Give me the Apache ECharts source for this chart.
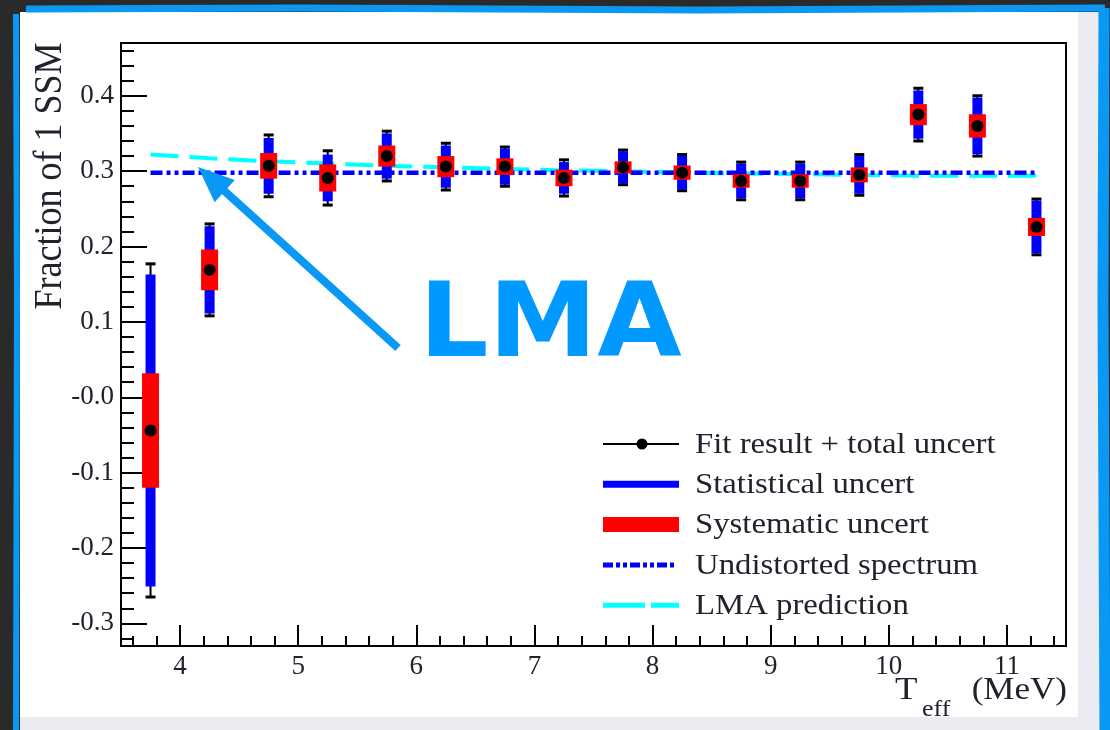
<!DOCTYPE html>
<html><head><meta charset="utf-8">
<script src="https://cdn.jsdelivr.net/npm/echarts@6/dist/echarts.min.js"></script>
<style>html,body{margin:0;padding:0;background:#2a2a2a;} #c{width:1110px;height:730px;}</style>
</head><body><div id="c"></div>
<script>
// ---- data ----
const energy = [3.75, 4.25, 4.75, 5.25, 5.75, 6.25, 6.75, 7.25, 7.75, 8.25, 8.75, 9.25, 9.75, 10.25, 10.75, 11.25];
const fraction = [-0.044, 0.169, 0.307, 0.291, 0.320, 0.306, 0.306, 0.291, 0.305, 0.298, 0.287, 0.287, 0.295, 0.375, 0.360, 0.226];
const statErr = [0.207, 0.058, 0.037, 0.031, 0.030, 0.028, 0.024, 0.021, 0.0215, 0.0225, 0.023, 0.023, 0.025, 0.032, 0.0375, 0.035];
const systErr = [0.076, 0.027, 0.017, 0.018, 0.014, 0.014, 0.011, 0.011, 0.008, 0.0095, 0.009, 0.009, 0.010, 0.014, 0.0155, 0.012];
const totalErr = [0.221, 0.061, 0.041, 0.036, 0.033, 0.031, 0.026, 0.024, 0.023, 0.024, 0.025, 0.025, 0.027, 0.035, 0.040, 0.037];
const undistortedX = [3.75, 11.25];
const undistortedY = [0.298, 0.298];
const lmaPrediction = [0.322, 0.317, 0.313, 0.310, 0.307, 0.305, 0.303, 0.301, 0.300, 0.298, 0.297, 0.296, 0.295, 0.294, 0.294, 0.294];
const xTickValues = [4, 5, 6, 7, 8, 9, 10, 11];
const xTickLabels = ['4', '5', '6', '7', '8', '9', '10', '11'];
const yTickValues = [-0.3, -0.2, -0.1, 0, 0.1, 0.2, 0.3, 0.4];
const yTickLabels = ['-0.3', '-0.2', '-0.1', '-0.0', '0.1', '0.2', '0.3', '0.4'];
const legendLabels = ['Fit result + total uncert', 'Statistical uncert', 'Systematic uncert', 'Undistorted spectrum', 'LMA prediction'];
const yTitle = 'Fraction of 1 SSM';
const annotationText = 'LMA';

// ---- build ----
const SERIF = '"Liberation Serif", "Times New Roman", serif';
const TXT = '#22222e';
function labelFor(values, labels) {
  return function (v) {
    for (let i = 0; i < values.length; i++) if (Math.abs(values[i] - v) < 1e-9) return labels[i];
    return '';
  };
}
const errData = (arr) => energy.map((x, i) => [x, fraction[i], arr[i]]);

function renderTotal(params, api) {
  const x = api.value(0), y = api.value(1), e = api.value(2);
  const p1 = api.coord([x, y + e]), p2 = api.coord([x, y - e]);
  const hw = 5;
  return { type: 'group', children: [
    { type: 'line', shape: { x1: p1[0], y1: p1[1], x2: p2[0], y2: p2[1] }, style: { stroke: '#000', lineWidth: 2 } },
    { type: 'line', shape: { x1: p1[0] - hw, y1: p1[1], x2: p1[0] + hw, y2: p1[1] }, style: { stroke: '#000', lineWidth: 3 } },
    { type: 'line', shape: { x1: p2[0] - hw, y1: p2[1], x2: p2[0] + hw, y2: p2[1] }, style: { stroke: '#000', lineWidth: 3 } }
  ] };
}
function rectRenderer(halfWidth, color) {
  return function (params, api) {
    const x = api.value(0), y = api.value(1), e = api.value(2);
    const p1 = api.coord([x, y + e]), p2 = api.coord([x, y - e]);
    return { type: 'rect', shape: { x: p1[0] - halfWidth, y: p1[1], width: halfWidth * 2, height: p2[1] - p1[1] }, style: { fill: color } };
  };
}

const chart = echarts.init(document.getElementById('c'), null, { renderer: 'canvas' });

const legendX0 = 603, legendX1 = 679, legendTextX = 695, legendY0 = 444, legendDy = 40.3;
const legendGraphics = [];
legendGraphics.push({ type: 'line', shape: { x1: legendX0, y1: legendY0, x2: legendX1, y2: legendY0 }, style: { stroke: '#000', lineWidth: 2 }, z: 100 });
legendGraphics.push({ type: 'circle', shape: { cx: (legendX0 + legendX1) / 2 + 1, cy: legendY0, r: 5.5 }, style: { fill: '#000' }, z: 100 });
legendGraphics.push({ type: 'rect', shape: { x: legendX0, y: legendY0 + legendDy - 3.5, width: legendX1 - legendX0, height: 7 }, style: { fill: '#0000ff' }, z: 100 });
legendGraphics.push({ type: 'rect', shape: { x: legendX0, y: legendY0 + 2 * legendDy - 7.5, width: legendX1 - legendX0, height: 15 }, style: { fill: '#ff0000' }, z: 100 });
legendGraphics.push({ type: 'line', shape: { x1: legendX0, y1: legendY0 + 3 * legendDy, x2: legendX1 - 4, y2: legendY0 + 3 * legendDy }, style: { stroke: '#0000ff', lineWidth: 5, lineDash: [10, 3, 4, 3, 4, 3] }, z: 100 });
legendGraphics.push({ type: 'line', shape: { x1: legendX0, y1: legendY0 + 4 * legendDy, x2: legendX1, y2: legendY0 + 4 * legendDy }, style: { stroke: '#00ffff', lineWidth: 5, lineDash: [42, 6] }, z: 100 });
legendLabels.forEach((t, i) => {
  legendGraphics.push({ type: 'text', x: legendTextX, y: legendY0 + i * legendDy + 1, scaleX: 1.13, z: 100,
    style: { text: t, fill: TXT, font: '29px ' + SERIF, textAlign: 'left', textVerticalAlign: 'middle' } });
});

const tip = [198, 167], tail = [398, 348];
const ux = (tip[0] - tail[0]), uy = (tip[1] - tail[1]);
const ul = Math.hypot(ux, uy);
const dx = ux / ul, dy = uy / ul;
const headLen = 36, headHalf = 15;
const base = [tip[0] - dx * headLen, tip[1] - dy * headLen];
const perp = [-dy, dx];

const option = {
  animation: false,
  backgroundColor: '#2a2a2a',
  grid: { left: 121, right: 44, top: 43, bottom: 84, show: true, borderColor: '#000', borderWidth: 2, backgroundColor: 'transparent' },
  xAxis: [
    { type: 'value', min: 3.5, max: 11.5, splitNumber: 8, position: 'bottom',
      axisLine: { show: true, onZero: false, lineStyle: { color: '#000', width: 2 } },
      axisTick: { show: true, inside: true, length: 21, lineStyle: { color: '#000', width: 2 } },
      axisLabel: { show: true, formatter: labelFor(xTickValues, xTickLabels), fontFamily: SERIF, fontSize: 27, color: TXT, margin: 7, showMinLabel: false, showMaxLabel: false },
      splitLine: { show: false } },
    { type: 'value', min: 3.5, max: 11.5, splitNumber: 40, position: 'bottom', offset: 0,
      axisLine: { show: false, onZero: false },
      axisTick: { show: true, inside: true, length: 10, lineStyle: { color: '#000', width: 2 } },
      axisLabel: { show: false }, splitLine: { show: false } }
  ],
  yAxis: [
    { type: 'value', min: -0.33, max: 0.47, splitNumber: 8, position: 'left',
      axisLine: { show: true, onZero: false, lineStyle: { color: '#000', width: 2 } },
      axisTick: { show: true, inside: true, length: 26, lineStyle: { color: '#000', width: 2 } },
      axisLabel: { show: true, formatter: labelFor(yTickValues, yTickLabels), fontFamily: SERIF, fontSize: 27, color: TXT, margin: 7, showMinLabel: false, showMaxLabel: false },
      splitLine: { show: false } },
    { type: 'value', min: -0.33, max: 0.47, splitNumber: 40, position: 'left', offset: 0,
      axisLine: { show: false, onZero: false },
      axisTick: { show: true, inside: true, length: 13, lineStyle: { color: '#000', width: 2 } },
      axisLabel: { show: false }, splitLine: { show: false } }
  ],
  series: [
    { name: 'LMA prediction', type: 'line', z: 2, data: energy.map((x, i) => [x, lmaPrediction[i]]), showSymbol: false, symbol: 'none',
      lineStyle: { color: '#00ffff', width: 4, type: [28, 11] } },
    { name: 'Undistorted spectrum', type: 'line', z: 3, data: undistortedX.map((x, i) => [x, undistortedY[i]]), showSymbol: false, symbol: 'none',
      lineStyle: { color: '#0000ff', width: 4.5, type: [12, 4, 4, 4, 4, 4] } },
    { name: 'Fit result + total uncert', type: 'custom', z: 4, data: errData(totalErr), encode: { x: 0, y: 1 }, renderItem: renderTotal },
    { name: 'Statistical uncert', type: 'custom', z: 5, data: errData(statErr), encode: { x: 0, y: 1 }, renderItem: rectRenderer(5, '#0000ff') },
    { name: 'Systematic uncert', type: 'custom', z: 6, data: errData(systErr), encode: { x: 0, y: 1 }, renderItem: rectRenderer(8.5, '#ff0000') },
    { name: 'Fit result', type: 'scatter', z: 7, data: energy.map((x, i) => [x, fraction[i]]), symbol: 'circle', symbolSize: 12, itemStyle: { color: '#000', opacity: 1 } }
  ],
  graphic: [
    { type: 'rect', z: -100, shape: { x: 20, y: 12, width: 1080, height: 718 }, style: { fill: '#eaecf1' } },
    { type: 'rect', z: -99, shape: { x: 20, y: 12, width: 1058, height: 705 }, style: { fill: '#ffffff' } },
    { type: 'polyline', z: -98, shape: { points: [[26, 9], [300, 8], [700, 10], [1105, 8]] }, style: { stroke: '#0a98f5', lineWidth: 7, fill: null } },
    { type: 'polyline', z: -98, shape: { points: [[16, 14], [17, 300], [16, 730]] }, style: { stroke: '#0a98f5', lineWidth: 6, fill: null } },
    { type: 'polyline', z: -98, shape: { points: [[1104, 8], [1103, 300], [1105, 730]] }, style: { stroke: '#0a98f5', lineWidth: 11, fill: null } },
    { type: 'text', x: 50, y: 176, rotation: Math.PI / 2, scaleY: 1.12, z: 50,
      style: { text: yTitle, fill: TXT, font: '36px ' + SERIF, textAlign: 'center', textVerticalAlign: 'middle' } },
    { type: 'text', x: 895, y: 691, scaleX: 1.15, z: 50,
      style: { text: 'T', fill: TXT, font: '32px ' + SERIF, textAlign: 'left', textVerticalAlign: 'middle' } },
    { type: 'text', x: 922, y: 710, scaleX: 1.13, z: 50,
      style: { text: 'eff', fill: TXT, font: '23px ' + SERIF, textAlign: 'left', textVerticalAlign: 'middle' } },
    { type: 'text', x: 1067, y: 691, scaleX: 1.13, z: 50,
      style: { text: '(MeV)', fill: TXT, font: '31px ' + SERIF, textAlign: 'right', textVerticalAlign: 'middle' } },
    ...legendGraphics,
    { type: 'line', z: 120, shape: { x1: tail[0], y1: tail[1], x2: base[0] + dx * 4, y2: base[1] + dy * 4 }, style: { stroke: '#0a98f5', lineWidth: 8 } },
    { type: 'polygon', z: 120, shape: { points: [tip, [base[0] + perp[0] * headHalf, base[1] + perp[1] * headHalf], [base[0] - perp[0] * headHalf, base[1] - perp[1] * headHalf]] }, style: { fill: '#0a98f5' } },
    { type: 'text', x: 419, y: 329, scaleX: 1.05, z: 120,
      style: { text: annotationText, fill: '#0099ff', font: 'bold 104px "DejaVu Sans", "Open Sans", sans-serif', textAlign: 'left', textVerticalAlign: 'middle' } }
  ]
};
chart.setOption(option);
</script>
</body></html>
